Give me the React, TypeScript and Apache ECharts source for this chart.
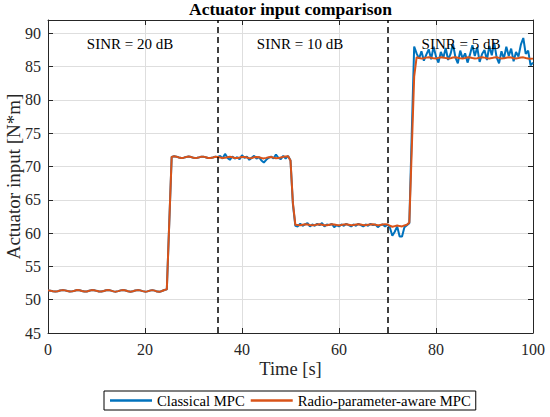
import React, { useEffect, useRef } from "react";
import * as echarts from "echarts";

// Sampling step of the recorded signals [s]
const sampleStep = 0.5;

// Common part of both controllers, t = 0 ... 35 s
const commonStart = [
  51.40, 51.36, 51.27, 51.22, 51.28, 51.38, 51.44, 51.40, 51.30, 51.22,
  51.25, 51.35, 51.45, 51.42, 51.32, 51.23, 51.24, 51.34, 51.44, 51.43,
  51.33, 51.24, 51.22, 51.31, 51.42, 51.45, 51.36, 51.25, 51.21, 51.29,
  51.40, 51.45, 51.38, 51.27, 51.21, 51.27, 51.38, 51.44, 51.40, 51.29,
  51.21, 51.25, 51.36, 51.44, 51.36, 51.22, 51.18, 51.30, 51.45,
  51.55, 61.5, 71.45,
  71.55, 71.48, 71.35, 71.28, 71.33, 71.44, 71.50, 71.42, 71.30, 71.26,
  71.34, 71.45, 71.48, 71.38, 71.28, 71.27, 71.36, 71.46, 71.44,
];

// Radio-parameter-aware MPC, t = 35.5 ... 100 s
const radioAwareTail = [
  71.34, 71.27, 71.30, 71.40, 71.45, 71.38, 71.28, 71.26, 71.34, 71.44,
  71.44, 71.34, 71.25, 71.28, 71.38, 71.44, 71.38, 71.27, 71.22, 71.30,
  71.40, 71.42, 71.33, 71.24, 71.26, 71.36, 71.45, 71.50, 71.55,
  70.9, 64.5, 61.25,
  61.20, 61.18, 61.25, 61.32, 61.30, 61.22, 61.17, 61.22, 61.30, 61.33,
  61.26, 61.18, 61.19, 61.27, 61.33, 61.29, 61.21, 61.17, 61.23, 61.31,
  61.32, 61.25, 61.18, 61.20, 61.28, 61.33, 61.28, 61.20, 61.17, 61.24,
  61.31, 61.32, 61.24, 61.18, 61.21, 61.29, 61.35, 61.30, 61.10, 60.95,
  61.05, 61.15, 61.05, 61.00, 61.15, 61.25,
  61.6, 72.5, 83.5, 86.4,
  86.30, 86.22, 86.25, 86.35, 86.40, 86.33, 86.24, 86.22, 86.31, 86.40,
  86.38, 86.28, 86.21, 86.26, 86.36, 86.41, 86.34, 86.25, 86.22, 86.30,
  86.39, 86.38, 86.29, 86.21, 86.25, 86.35, 86.42, 86.35, 86.26, 86.21,
  86.28, 86.38, 86.40, 86.31, 86.23, 86.24, 86.34, 86.41, 86.36, 86.27,
  86.22, 86.29, 86.38, 86.39, 86.30, 86.22, 86.18, 86.20,
];

// Classical MPC, t = 35.5 ... 100 s
const classicalTail = [
  71.6, 71.2, 71.9, 71.3, 71.0, 71.5, 71.2, 71.4, 71.1, 71.7,
  71.3, 71.5, 71.0, 71.3, 71.6, 71.2, 71.4, 70.9, 70.6, 71.0,
  71.3, 71.5, 71.2, 71.8, 71.3, 71.1, 71.6, 71.2, 71.6,
  70.9, 64.3, 61.1,
  61.0, 61.4, 61.1, 61.3, 61.5, 61.0, 61.3, 61.1, 61.4, 61.2,
  61.5, 61.0, 61.3, 61.2, 61.4, 60.9, 61.2, 61.0, 61.3, 61.1,
  61.4, 61.2, 61.0, 61.3, 61.1, 61.4, 61.2, 61.0, 61.3, 61.1,
  61.4, 61.2, 61.3, 60.9, 61.2, 61.3, 61.0, 61.3, 60.8, 59.6,
  60.2, 61.0, 59.5, 59.5, 60.9, 61.2,
  61.5, 75.0, 88.0, 87.0,
  86.2, 87.3, 85.9, 86.8, 87.6, 86.1, 88.0, 86.5, 85.6, 87.2,
  86.3, 87.8, 86.0, 86.9, 88.4, 86.4, 85.5, 87.4, 86.2, 87.0,
  85.6, 86.8, 88.2, 86.6, 87.9, 85.7, 86.9, 87.5, 86.0, 88.1,
  86.7, 88.6, 86.4, 85.5, 87.3, 86.2, 88.0, 86.6, 87.7, 85.8,
  87.2, 86.5, 88.3, 89.3, 86.9, 87.4, 85.2, 85.6,
];

const seriesNames = ["Classical MPC", "Radio-parameter-aware MPC"];
const sinrSwitchTimes = [35, 70];
const sinrLabels = ["SINR = 20 dB", "SINR = 10 dB", "SINR = 5 dB"];
const xTicks = { min: 0, max: 100, interval: 20 };
const yTicks = { min: 45, max: 92, interval: 5 };

const toPairs = (vals: number[]) => vals.map((v, i) => [i * sampleStep, v]);

const FONT = "Liberation Serif";

export default function App() {
  const ref = useRef<HTMLDivElement>(null);
  useEffect(() => {
    if (!ref.current) return;
    const chart = echarts.init(ref.current, undefined, { renderer: "svg" });
    const classical = toPairs([...commonStart, ...classicalTail]);
    const radioAware = toPairs([...commonStart, ...radioAwareTail]);
    const axisCommon = {
      axisLine: { show: true, onZero: false, lineStyle: { color: "#262626", width: 1 } },
      axisTick: { show: true, inside: true, length: 5, lineStyle: { color: "#262626" } },
    };
    const sinrText = (text: string, x: number) => ({
      type: "text",
      x,
      y: 44,
      z: 10,
      style: {
        text,
        fontFamily: FONT,
        fontSize: 15,
        fill: "#000",
        align: "center",
        verticalAlign: "middle",
      },
    });
    chart.setOption({
      animation: false,
      backgroundColor: "#fff",
      textStyle: { fontFamily: FONT },
      title: {
        text: "Actuator input comparison",
        left: 290.5,
        top: 0,
        padding: 0,
        textAlign: "center",
        textStyle: { fontFamily: FONT, fontSize: 17.5, fontWeight: "bold", color: "#000" },
      },
      grid: { left: 48, right: 17, top: 20, bottom: 84, containLabel: false, outerBoundsMode: "none" },
      legend: {
        data: seriesNames,
        left: 104,
        top: 391,
        orient: "horizontal",
        borderColor: "#000",
        borderWidth: 1,
        borderRadius: 0,
        padding: [2, 5, 2, 6],
        itemGap: 6,
        itemWidth: 42,
        itemHeight: 2.5,
        icon: "rect",
        textStyle: { fontFamily: FONT, fontSize: 14.7, color: "#000" },
      },
      xAxis: [
        {
          type: "value",
          ...xTicks,
          position: "bottom",
          ...axisCommon,
          axisLabel: { fontFamily: FONT, fontSize: 16, color: "#262626", margin: 8 },
          splitLine: { show: true, lineStyle: { color: "#dedede", width: 1 } },
          name: "Time [s]",
          nameLocation: "middle",
          nameGap: 26,
          nameMoveOverlap: false,
          nameTextStyle: { fontFamily: FONT, fontSize: 18.5, color: "#262626" },
        },
        {
          type: "value",
          ...xTicks,
          position: "top",
          ...axisCommon,
          axisLabel: { show: false },
          splitLine: { show: false },
        },
      ],
      yAxis: [
        {
          type: "value",
          ...yTicks,
          position: "left",
          ...axisCommon,
          axisLabel: { fontFamily: FONT, fontSize: 16, color: "#262626", margin: 7, showMaxLabel: false },
          splitLine: { show: true, lineStyle: { color: "#dedede", width: 1 } },
          name: "Actuator input [N*m]",
          nameLocation: "middle",
          nameGap: 25,
          nameMoveOverlap: false,
          nameTextStyle: { fontFamily: FONT, fontSize: 19, color: "#262626" },
        },
        {
          type: "value",
          ...yTicks,
          position: "right",
          ...axisCommon,
          axisLabel: { show: false },
          splitLine: { show: false },
        },
      ],
      series: [
        {
          name: seriesNames[0],
          type: "line",
          data: classical,
          xAxisIndex: 0,
          yAxisIndex: 0,
          showSymbol: false,
          symbol: "none",
          color: "#0072BD",
          lineStyle: { color: "#0072BD", width: 2 },
          markLine: {
            silent: true,
            symbol: ["none", "none"],
            label: { show: false },
            lineStyle: { color: "#000", width: 1.5, type: [6, 4] },
            data: sinrSwitchTimes.map((t) => ({ xAxis: t })),
          },
        },
        {
          name: seriesNames[1],
          type: "line",
          data: radioAware,
          xAxisIndex: 0,
          yAxisIndex: 0,
          showSymbol: false,
          symbol: "none",
          color: "#D95319",
          lineStyle: { color: "#D95319", width: 2 },
        },
      ],
      graphic: [
        sinrText(sinrLabels[0], 130),
        sinrText(sinrLabels[1], 300),
        sinrText(sinrLabels[2], 461),
      ],
    });
    return () => chart.dispose();
  }, []);
  return <div ref={ref} style={{ width: 550, height: 417, position: "absolute", left: 0, top: 0 }} />;
}
